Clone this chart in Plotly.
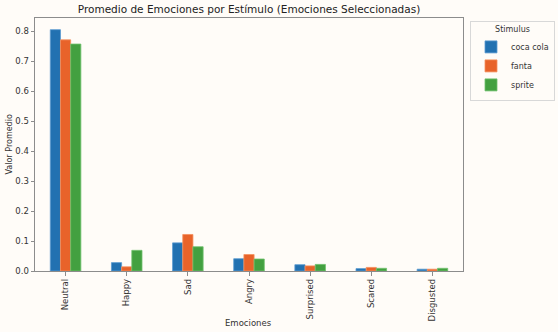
import plotly.graph_objects as go

emociones = ["Neutral", "Happy", "Sad", "Angry", "Surprised", "Scared", "Disgusted"]
coca_cola = [0.806, 0.028, 0.094, 0.041, 0.021, 0.008, 0.006]
fanta = [0.772, 0.014, 0.122, 0.055, 0.017, 0.012, 0.006]
sprite = [0.758, 0.069, 0.081, 0.040, 0.022, 0.009, 0.009]
series_names = ["coca cola", "fanta", "sprite"]
colors = ["#2271b1", "#e8632a", "#43a040"]
edge_colors = ["#5a9ad0", "#f5905e", "#6fc06c"]
y_ticks = [0.0, 0.1, 0.2, 0.3, 0.4, 0.5, 0.6, 0.7, 0.8]

bg = "#fffcf8"
font = "DejaVu Sans"
W, H = 558, 332
L, R, T, B = 35, 95, 18, 61
pw, ph = W - L - R, H - T - B

fig = go.Figure()
for name, vals, c, ec in zip(series_names, [coca_cola, fanta, sprite], colors, edge_colors):
    fig.add_trace(go.Bar(x=emociones, y=vals, name=name,
                         marker=dict(color=c, line=dict(color=ec, width=0.8))))

fig.update_layout(
    width=W, height=H,
    paper_bgcolor=bg, plot_bgcolor=bg,
    margin=dict(l=L, r=R, t=T, b=B, autoexpand=False),
    barmode="group", bargap=0.5, bargroupgap=0,
    font=dict(family=font, size=8.5, color="#333333"),
    title=dict(text="Promedio de Emociones por Estímulo (Emociones Seleccionadas)",
               x=249/558, xanchor="center", y=1 - 9.5/332, yanchor="middle",
               font=dict(size=10.5, color="#222222")),
    showlegend=True,
    legend=dict(title=dict(text="Stimulus", side="top center", font=dict(size=8)),
                x=(555 - L) / pw, xanchor="right", y=(H - B - 21) / ph, yanchor="top",
                bgcolor=bg, bordercolor="#d8d8d8", borderwidth=1,
                font=dict(size=8), itemwidth=30, tracegroupgap=0),
    xaxis=dict(range=[-0.5, 6.5], tickangle=-90, showline=True, mirror=True,
               automargin=False,
               linecolor="#8c8c8c", linewidth=1, ticks="outside", ticklen=3.5,
               tickcolor="#8c8c8c", showgrid=False, zeroline=False),
    yaxis=dict(range=[0, 0.845], tickvals=y_ticks, tickformat=".1f", showline=True,
               automargin=False,
               mirror=True, linecolor="#8c8c8c", linewidth=1, ticks="outside",
               ticklen=3.5, tickcolor="#8c8c8c", showgrid=False, zeroline=False),
    annotations=[
        dict(text="Emociones", xref="paper", yref="paper", x=(248 - L) / pw,
             y=-(323 - (H - B)) / ph, xanchor="center", yanchor="middle",
             showarrow=False, font=dict(size=8.5)),
        dict(text="Valor Promedio", xref="paper", yref="paper", x=-(L - 9) / pw,
             y=0.5, xanchor="center", yanchor="middle", textangle=-90,
             showarrow=False, font=dict(size=8)),
    ],
)

fig.write_html("out.html", config={"displayModeBar": False},
               post_script="document.body.style.margin='0';document.body.style.background='" + bg + "';")
